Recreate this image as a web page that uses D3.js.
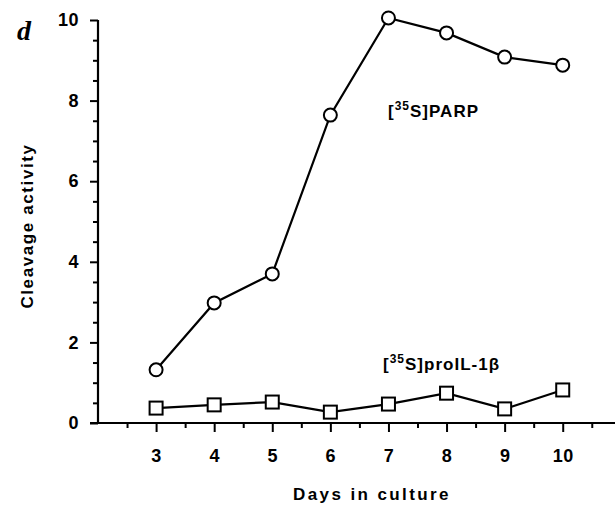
<!DOCTYPE html>
<html>
<head>
<meta charset="utf-8">
<script src="https://cdn.jsdelivr.net/npm/d3@7"></script>
<style>
  body { margin: 0; background: #fff; }
  svg { display: block; }
  text { font-family: "Liberation Sans", Arial, sans-serif; font-weight: bold; fill: #000; }
</style>
</head>
<body>
<svg id="chart" width="615" height="514"></svg>
<script>
(function() {

// days in culture
const days = [3, 4, 5, 6, 7, 8, 9, 10];
// cleavage activity, [35S]PARP (circles)
const parp = [1.32, 2.98, 3.70, 7.64, 10.05, 9.68, 9.08, 8.88];
// cleavage activity, [35S]proIL-1beta (squares)
const proil = [0.37, 0.45, 0.52, 0.27, 0.47, 0.74, 0.35, 0.82];
const yTicks = [0, 2, 4, 6, 8, 10];

const svg = d3.select("#chart");

const x = d3.scaleLinear().domain([2, 10.9]).range([98, 615]);
const y = d3.scaleLinear().domain([0, 10]).range([423, 20]);

/**
 * Axes
 */

const yAxis = d3.axisLeft(y)
    .tickValues(yTicks)
    .tickFormat(d3.format("d"))
    .tickSize(8)
    .tickPadding(11);

const yMinor = d3.axisLeft(y)
    .tickValues(d3.range(0.5, 10, 0.5).filter((v) => v % 2 !== 0))
    .tickFormat("")
    .tickSize(5);

const xAxis = d3.axisBottom(x)
    .tickValues(days)
    .tickFormat(d3.format("d"))
    .tickSize(9)
    .tickPadding(17);

const xMinor = d3.axisBottom(x)
    .tickValues(d3.range(2.5, 11, 1))
    .tickFormat("")
    .tickSize(5);

function styleAxis(g) {
    g.select(".domain").remove();
    g.selectAll("line").attr("stroke", "#000").attr("stroke-width", 2);
    g.selectAll("text")
        .style("font-size", "18px")
        .style("font-weight", "bold")
        .style("letter-spacing", "0.5px")
        .attr("fill", "#000");
}

svg.append("g").attr("transform", "translate(98,0)").call(yMinor).call(styleAxis);
svg.append("g").attr("transform", "translate(98,0)").call(yAxis).call(styleAxis);
svg.append("g").attr("transform", "translate(0,423)").call(xMinor).call(styleAxis);
svg.append("g").attr("transform", "translate(0,423)").call(xAxis).call(styleAxis);

// axis lines
svg.append("line")
    .attr("x1", 98).attr("x2", 98)
    .attr("y1", y(10)).attr("y2", y(0))
    .attr("stroke", "#000").attr("stroke-width", 2.2);
svg.append("line")
    .attr("x1", 90).attr("x2", 615)
    .attr("y1", y(0)).attr("y2", y(0))
    .attr("stroke", "#000").attr("stroke-width", 2.2);

/**
 * Series
 */

const line = d3.line()
    .x((d) => x(d[0]))
    .y((d) => y(d[1]));

const parpPts = days.map((d, i) => [d, parp[i]]);
const proilPts = days.map((d, i) => [d, proil[i]]);

[parpPts, proilPts].forEach(function(pts) {
    svg.append("path")
        .datum(pts)
        .attr("d", line)
        .attr("fill", "none")
        .attr("stroke", "#000")
        .attr("stroke-width", 2.2);
});

svg.append("g").selectAll("circle")
    .data(parpPts)
    .enter().append("circle")
    .attr("cx", (d) => x(d[0]))
    .attr("cy", (d) => y(d[1]))
    .attr("r", 6.5)
    .attr("fill", "#fff")
    .attr("stroke", "#000")
    .attr("stroke-width", 2);

svg.append("g").selectAll("rect")
    .data(proilPts)
    .enter().append("rect")
    .attr("x", (d) => x(d[0]) - 6.5)
    .attr("y", (d) => y(d[1]) - 6.5)
    .attr("width", 13)
    .attr("height", 13)
    .attr("fill", "#fff")
    .attr("stroke", "#000")
    .attr("stroke-width", 2);

/**
 * Labels
 */

function seriesLabel(xp, yp, name) {
    const t = svg.append("text")
        .attr("x", xp).attr("y", yp)
        .style("font-size", "17px")
        .style("letter-spacing", "1px");
    t.append("tspan").text("[");
    t.append("tspan").attr("dy", -7).style("font-size", "12px").text("35");
    t.append("tspan").attr("dy", 7).text("S]" + name);
}

seriesLabel(388, 117, "PARP");
seriesLabel(383, 370, "proIL-1\u03b2");

svg.append("text")
    .attr("x", 372).attr("y", 500)
    .attr("text-anchor", "middle")
    .style("font-size", "17px")
    .style("letter-spacing", "2.4px")
    .text("Days in culture");

svg.append("text")
    .attr("transform", "translate(33,226) rotate(-90)")
    .attr("text-anchor", "middle")
    .style("font-size", "17px")
    .style("letter-spacing", "1.6px")
    .text("Cleavage activity");

svg.append("text")
    .attr("x", 17).attr("y", 40)
    .style("font-family", "'Liberation Serif', 'Times New Roman', serif")
    .style("font-style", "italic")
    .style("font-weight", "bold")
    .style("font-size", "28px")
    .text("d");

})();
</script>
</body>
</html>
